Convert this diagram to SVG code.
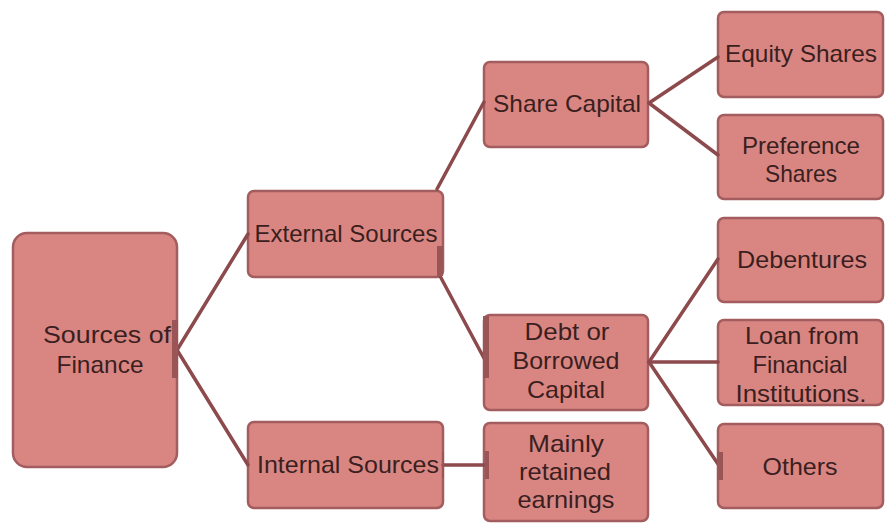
<svg xmlns="http://www.w3.org/2000/svg" width="890" height="523" viewBox="0 0 890 523">
<style>
.box{fill:#d98683;stroke:#a35d5f;stroke-width:2.5}
.t{font-family:"Liberation Sans",Arial,sans-serif;font-size:24px;fill:#3b1f20;text-anchor:middle}
.c{stroke:#8c4a4c;stroke-width:3.5;fill:none;stroke-linecap:round}
.bar{stroke:#9a5557;stroke-width:6;fill:none}
</style>
<rect width="890" height="523" fill="#ffffff"/>
<g id="sources-of-finance">
<rect class="box" x="13" y="233" width="164" height="234" rx="14"/>
<text class="t" x="107" y="343" textLength="128" lengthAdjust="spacingAndGlyphs">Sources of</text>
<text class="t" x="100" y="373" textLength="87" lengthAdjust="spacingAndGlyphs">Finance</text>
</g>
<g id="external-sources">
<rect class="box" x="248" y="191" width="195" height="86" rx="6"/>
<text class="t" x="346" y="242" textLength="183" lengthAdjust="spacingAndGlyphs">External Sources</text>
</g>
<g id="internal-sources">
<rect class="box" x="248" y="422" width="195" height="86" rx="6"/>
<text class="t" x="348" y="473" textLength="182" lengthAdjust="spacingAndGlyphs">Internal Sources</text>
</g>
<g id="share-capital">
<rect class="box" x="484" y="62" width="164" height="85" rx="6"/>
<text class="t" x="567" y="112" textLength="148" lengthAdjust="spacingAndGlyphs">Share Capital</text>
</g>
<g id="debt-capital">
<rect class="box" x="484" y="315" width="164" height="95" rx="6"/>
<text class="t" x="567" y="340" textLength="85" lengthAdjust="spacingAndGlyphs">Debt or</text>
<text class="t" x="566" y="369" textLength="107" lengthAdjust="spacingAndGlyphs">Borrowed</text>
<text class="t" x="566" y="398" textLength="78" lengthAdjust="spacingAndGlyphs">Capital</text>
</g>
<g id="retained-earnings">
<rect class="box" x="484" y="423" width="164" height="98" rx="6"/>
<text class="t" x="566" y="452" textLength="76" lengthAdjust="spacingAndGlyphs">Mainly</text>
<text class="t" x="565" y="480" textLength="92" lengthAdjust="spacingAndGlyphs">retained</text>
<text class="t" x="566" y="508" textLength="97" lengthAdjust="spacingAndGlyphs">earnings</text>
</g>
<g id="equity-shares">
<rect class="box" x="718" y="12" width="165" height="85" rx="6"/>
<text class="t" x="801" y="62" textLength="152" lengthAdjust="spacingAndGlyphs">Equity Shares</text>
</g>
<g id="preference-shares">
<rect class="box" x="718" y="115" width="165" height="84" rx="6"/>
<text class="t" x="801" y="154" textLength="118" lengthAdjust="spacingAndGlyphs">Preference</text>
<text class="t" x="801" y="182" textLength="72" lengthAdjust="spacingAndGlyphs">Shares</text>
</g>
<g id="debentures">
<rect class="box" x="718" y="218" width="165" height="84" rx="6"/>
<text class="t" x="802" y="268" textLength="130" lengthAdjust="spacingAndGlyphs">Debentures</text>
</g>
<g id="loan">
<rect class="box" x="718" y="320" width="165" height="85" rx="6"/>
<text class="t" x="802" y="344" textLength="114" lengthAdjust="spacingAndGlyphs">Loan from</text>
<text class="t" x="800" y="373" textLength="95" lengthAdjust="spacingAndGlyphs">Financial</text>
<text class="t" x="801" y="402" textLength="131" lengthAdjust="spacingAndGlyphs">Institutions.</text>
</g>
<g id="others">
<rect class="box" x="718" y="424" width="165" height="84" rx="6"/>
<text class="t" x="800" y="475" textLength="75" lengthAdjust="spacingAndGlyphs">Others</text>
</g>
<g id="connectors">
<line class="c" x1="177" y1="350" x2="248" y2="234"/>
<line class="c" x1="177" y1="350" x2="248" y2="465"/>
<line class="c" x1="437" y1="189" x2="484" y2="102"/>
<line class="c" x1="440" y1="276" x2="485" y2="360"/>
<line class="c" x1="649" y1="103" x2="718" y2="57"/>
<line class="c" x1="649" y1="103" x2="718" y2="155"/>
<line class="c" x1="649" y1="362" x2="718" y2="259"/>
<line class="c" x1="649" y1="362" x2="718" y2="362"/>
<line class="c" x1="649" y1="362" x2="718" y2="464"/>
<line class="c" x1="443" y1="465" x2="486" y2="465"/>
<line class="bar" x1="175" y1="320" x2="175" y2="378"/>
<line class="bar" x1="440" y1="246" x2="440" y2="276"/>
<line class="bar" x1="486" y1="316" x2="486" y2="378"/>
<line class="bar" x1="487" y1="451" x2="487" y2="479" style="stroke-width:4"/>
<line class="bar" x1="443" y1="452" x2="443" y2="478" style="stroke-width:2"/>
<line class="bar" x1="720" y1="452" x2="720" y2="480"/>
</g>
</svg>
